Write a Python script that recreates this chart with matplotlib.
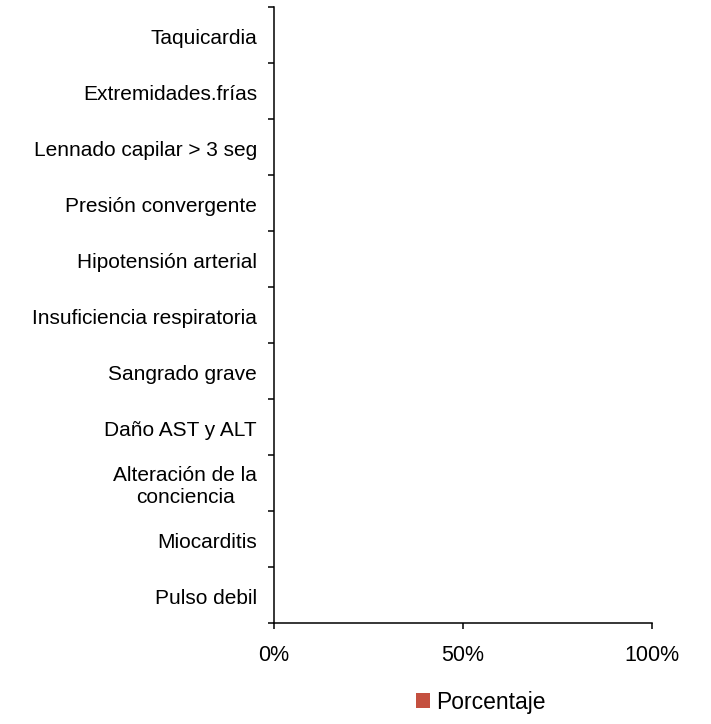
import matplotlib
matplotlib.use("Agg")
import matplotlib.pyplot as plt
import matplotlib.transforms as mtransforms
import numpy as np

plt.rcParams['font.family'] = ['Liberation Sans', 'DejaVu Sans']

categories = ["Pulso debil", "Miocarditis", "Alteración de la\nconciencia",
              "Daño AST y ALT", "Sangrado grave", "Insuficiencia respiratoria",
              "Hipotensión arterial", "Presión convergente",
              "Lennado capilar > 3 seg", "Extremidades.frías", "Taquicardia"]
porcentaje = [0, 0, 0, 0, 0, 0, 0, 0, 0, 0, 0]
x_ticks = [0, 0.5, 1.0]
x_tick_labels = ["0%", "50%", "100%"]
series_name = "Porcentaje"
bar_color = "#C4503F"

fig = plt.figure(figsize=(7.11, 7.24), dpi=100)
ax = fig.add_axes([274/711, 1-623/724, (652-274)/711, (623-7)/724])

y = np.arange(len(categories))
ax.barh(y, porcentaje, height=0.6, color=bar_color, label=series_name)

ax.set_ylim(-0.5, len(categories)-0.5)
ax.set_xlim(0, 1)
ax.set_xticks(x_ticks)
ax.set_xticklabels(x_tick_labels, fontsize=15.5)
ax.set_yticks(y)
ax.set_yticklabels([])
label_trans = ax.get_yaxis_transform() + mtransforms.ScaledTranslation(-0.17, -0.03, fig.dpi_scale_trans)
for yi, name in zip(y, categories):
    ax.text(0, yi, name, transform=label_trans, ha='right', va='center',
            multialignment='center', fontsize=15)
ax.set_yticks(np.arange(-0.5, len(categories), 1), minor=True)
ax.tick_params(axis='y', which='major', length=0)
ax.tick_params(axis='y', which='minor', length=4.5, width=1.1, direction='out')
ax.tick_params(axis='x', which='major', length=4.5, width=1.1, direction='out', pad=11)

for s in ['top', 'right']:
    ax.spines[s].set_visible(False)
for s in ['left', 'bottom']:
    ax.spines[s].set_linewidth(1.1)
    ax.spines[s].set_color('black')

fig.legend(loc='center', bbox_to_anchor=(481/711, 1-702/724), frameon=False,
           fontsize=16.5, handlelength=0.6, handleheight=0.6, handletextpad=0.3,
           borderpad=0)

fig.savefig("out.png", dpi=100)
